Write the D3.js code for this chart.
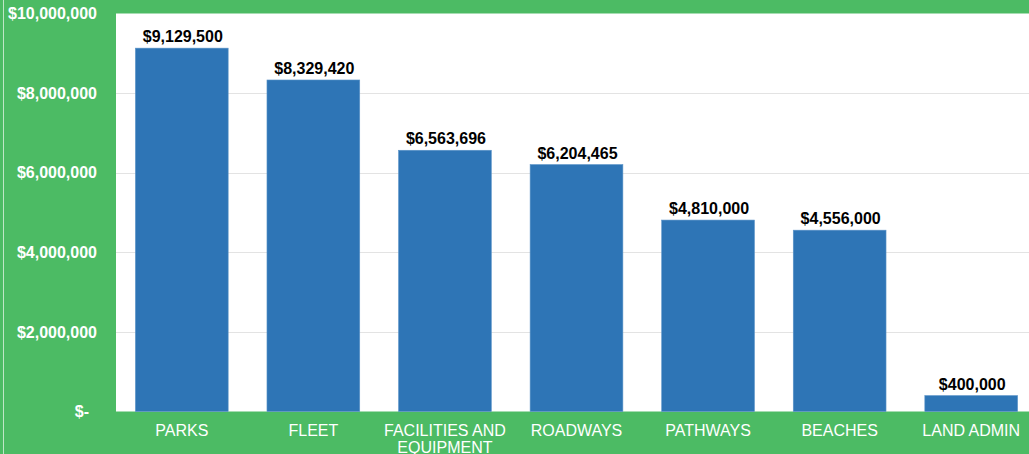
<!DOCTYPE html>
<html>
<head>
<meta charset="utf-8">
<script src="https://cdn.jsdelivr.net/npm/d3@7/dist/d3.min.js"></script>
<style>
  html, body { margin: 0; padding: 0; background: #4cbb64; overflow: hidden; }
  svg { display: block; font-family: Arial, "Liberation Sans", sans-serif; }
</style>
</head>
<body>
<div id="chart"></div>
<script>
// Capital budget by category
const categories = ['PARKS', 'FLEET', 'FACILITIES AND EQUIPMENT', 'ROADWAYS', 'PATHWAYS', 'BEACHES', 'LAND ADMIN'];
const amounts = [9129500, 8329420, 6563696, 6204465, 4810000, 4556000, 400000];
const yTicks = [0, 2000000, 4000000, 6000000, 8000000, 10000000];

const width = 1029, height = 454;
const margin = { top: 13.5, right: -8, bottom: 42.5, left: 116 };

const svg = d3.select('#chart').append('svg')
    .attr('width', width)
    .attr('height', height);

svg.append('rect')
    .attr('width', width).attr('height', height)
    .attr('fill', '#4cbb64');

// thin light line at the far left
svg.append('line')
    .attr('x1', 3.5).attr('x2', 3.5).attr('y1', 0).attr('y2', height)
    .attr('stroke', '#bfe6c7').attr('stroke-width', 1);

const x = d3.scaleBand()
    .domain(categories)
    .range([margin.left, width - margin.right])
    .paddingInner(0.295)
    .paddingOuter(0.1475);

const y = d3.scaleLinear()
    .domain([0, 10000000])
    .range([height - margin.bottom, margin.top]);

// plot area
svg.append('rect')
    .attr('x', margin.left)
    .attr('y', margin.top)
    .attr('width', width - margin.right - margin.left)
    .attr('height', y(0) - margin.top)
    .attr('fill', '#ffffff');

// gridlines
svg.append('g')
    .selectAll('line')
    .data(yTicks.filter(d => d > 0 && d < 10000000))
    .join('line')
    .attr('x1', margin.left).attr('x2', width)
    .attr('y1', d => Math.round(y(d)) + 0.5).attr('y2', d => Math.round(y(d)) + 0.5)
    .attr('stroke', '#e3e3e3');

const fmt = d3.format('$,');

// y axis labels
const yAxis = svg.append('g')
    .attr('transform', `translate(${margin.left - 19}, 0)`)
    .call(d3.axisLeft(y).tickValues(yTicks).tickSize(0).tickPadding(0)
        .tickFormat(d => d === 0 ? '$-' : fmt(d)));
yAxis.select('.domain').remove();
yAxis.selectAll('text')
    .attr('fill', '#ffffff')
    .style('font-size', '16px')
    .style('font-weight', 'bold')
    .attr('dx', d => d === 0 ? -8 : 0);

// bars
svg.append('g')
    .selectAll('rect')
    .data(amounts)
    .join('rect')
    .attr('x', (d, i) => x(categories[i]))
    .attr('y', d => y(d))
    .attr('width', x.bandwidth())
    .attr('height', d => y(0) - y(d))
    .attr('fill', '#2e75b6')
    .attr('stroke', '#5b93c8')
    .attr('stroke-width', 0.6);

// value labels
svg.append('g')
    .selectAll('text')
    .data(amounts)
    .join('text')
    .attr('x', (d, i) => x(categories[i]) + x.bandwidth() / 2 + 1)
    .attr('y', d => y(d) - 6)
    .attr('text-anchor', 'middle')
    .style('font-size', '16px')
    .style('font-weight', 'bold')
    .attr('fill', '#000000')
    .text(d => fmt(d));

// x axis labels
const xLabels = svg.append('g')
    .selectAll('text')
    .data(categories)
    .join('text')
    .attr('x', d => x(d) + x.bandwidth() / 2)
    .attr('y', y(0) + 24)
    .attr('text-anchor', 'middle')
    .attr('fill', '#ffffff')
    .style('font-size', '16px');

xLabels.each(function(d) {
    const t = d3.select(this);
    const lines = d === 'FACILITIES AND EQUIPMENT' ? ['FACILITIES AND', 'EQUIPMENT'] : [d];
    lines.forEach((ln, i) => {
        t.append('tspan')
            .attr('x', t.attr('x'))
            .attr('dy', i === 0 ? 0 : 17)
            .text(ln);
    });
});
</script>
</body>
</html>
